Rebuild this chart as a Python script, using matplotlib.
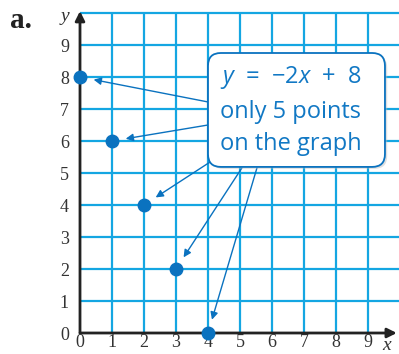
import numpy as np
import matplotlib.pyplot as plt
from matplotlib.patches import FancyBboxPatch

plt.rcParams['font.family'] = 'Liberation Serif'
plt.rcParams['mathtext.fontset'] = 'custom'
plt.rcParams['mathtext.rm'] = 'Open Sans'
plt.rcParams['mathtext.it'] = 'Open Sans:italic'

# points on y = -2x + 8 (whole-number solutions)
xs = [0, 1, 2, 3, 4]
ys = [8, 6, 4, 2, 0]
x_ticks = list(range(10))
y_ticks = list(range(10))
box_lines = ['only 5 points', 'on the graph']

# arrow starts on the callout box, data units
arrow_starts = [(4.0, 7.22), (4.0, 6.5), (4.06, 5.34), (5.06, 5.16), (5.53, 5.16)]

grid_c = '#14a6e2'
dot_c = '#0a72bf'
text_c = '#1178c4'
tick_c = '#333333'

fig = plt.figure(figsize=(3.99, 3.54), dpi=100)
ax = fig.add_axes([80 / 399, 21 / 354, 319 / 399, 333 / 354])
ax.set_xlim(0, 319 / 32)
ax.set_ylim(0, 333 / 32)
for s in ax.spines.values():
    s.set_visible(False)

# grid
ax.hlines(range(1, 11), 0, 319 / 32, color=grid_c, lw=1.6, zorder=1)
ax.vlines(range(1, 10), 0, 10, color=grid_c, lw=1.6, zorder=1)

# axes with arrows
ax.annotate('', xy=(0, 10.06), xytext=(0, 0), annotation_clip=False,
            arrowprops=dict(arrowstyle='-|>', color='#222222', lw=2, mutation_scale=14,
                            shrinkA=0, shrinkB=0), zorder=3)
ax.annotate('', xy=(9.9, 0), xytext=(0, 0), annotation_clip=False,
            arrowprops=dict(arrowstyle='-|>', color='#222222', lw=2, mutation_scale=14,
                            shrinkA=0, shrinkB=0), zorder=3)

ax.set_xticks(x_ticks)
ax.set_yticks(y_ticks)
ax.set_xticklabels([str(t) for t in x_ticks])
ax.set_yticklabels([str(t) for t in y_ticks])
ax.tick_params(length=0, labelsize=13, labelcolor=tick_c)
ax.tick_params(axis='x', pad=1)
ax.tick_params(axis='y', pad=8)

ax.text(-0.47, 9.9, 'y', style='italic', fontsize=14,
        color=tick_c, ha='center', va='center')
ax.text(9.58, -0.4, 'x', style='italic', fontsize=14,
        color=tick_c, ha='center', va='center')
fig.text(10 / 399, 1 - 28 / 354, 'a.', weight='bold', fontsize=21, color='#222222')

# callout box with shadow
shadow = FancyBboxPatch((4.07, 5.13), 5.53, 8.75 - 5.19, boxstyle='round,pad=0,rounding_size=0.4',
                        fc='#bbbbbb', ec='none', alpha=0.45, zorder=4)
ax.add_patch(shadow)
box = FancyBboxPatch((4.0, 5.19), 5.53, 8.75 - 5.19, boxstyle='round,pad=0,rounding_size=0.4',
                     fc='white', ec=dot_c, lw=1.3, zorder=5)
ax.add_patch(box)

ax.text(4.38, 7.98, '$y$  =  \u22122$x$  +  8', fontsize=17, color=text_c, va='center', zorder=6,
        family='Open Sans')
for i, line in enumerate(box_lines):
    ax.text(4.38, 6.9 - i * 1.0, line, fontsize=17, color=text_c, va='center', zorder=6,
            family='Open Sans')

# arrows from box to points
for (sx, sy), px, py in zip(arrow_starts, xs, ys):
    ax.annotate('', xy=(px, py), xytext=(sx, sy), annotation_clip=False,
                arrowprops=dict(arrowstyle='-|>', color=dot_c, lw=1, mutation_scale=11,
                                shrinkA=0, shrinkB=10), zorder=3)

ax.plot(xs, ys, 'o', color=dot_c, ms=9, clip_on=False, zorder=4)

fig.savefig('out.png', dpi=100)
